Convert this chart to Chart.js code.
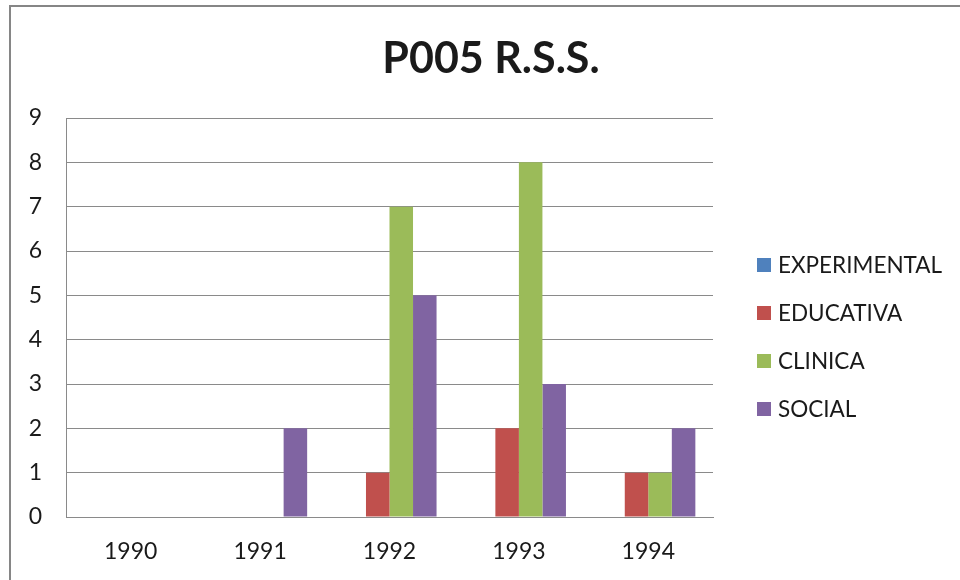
<!DOCTYPE html>
<html>
<head>
<meta charset="utf-8">
<title>P005 R.S.S.</title>
<script src="https://cdn.jsdelivr.net/npm/chart.js@4.4.1/dist/chart.umd.min.js"></script>
<style>
  html, body { margin: 0; padding: 0; background: #fff; overflow: hidden; }
  #wrap { position: relative; width: 960px; height: 580px; }
</style>
</head>
<body>
<div id="wrap"><canvas id="chart" width="960" height="580"></canvas></div>
<script>
// datos del grafico
const chartTitle = 'P005 R.S.S.';
const years = ['1990', '1991', '1992', '1993', '1994'];
const seriesNames = ['EXPERIMENTAL', 'EDUCATIVA', 'CLINICA', 'SOCIAL'];
const experimental = [0, 0, 0, 0, 0];
const educativa = [0, 0, 1, 2, 1];
const clinica = [0, 0, 7, 8, 1];
const social = [0, 2, 5, 3, 2];
const yMin = 0;
const yMax = 9;
const yStep = 1;

const seriesColors = ['#4F81BD', '#C0504D', '#9BBB59', '#8064A2'];
const gridColor = '#8a8a8a';
const textColor = '#1a1a1a';
const fontFamily = 'Lato, "Open Sans", sans-serif';

/**
 * Marco, titulo y leyenda dibujados a mano (estilo Excel)
 */
const excelDecor = {
  id: 'excelDecor',
  beforeDraw(chart) {
    const ctx = chart.ctx;
    ctx.save();
    ctx.strokeStyle = '#868686';
    ctx.lineWidth = 2;
    ctx.strokeRect(10, 6, 1200, 1200);
    ctx.restore();
  },
  afterDraw(chart, args, opts) {
    const ctx = chart.ctx;
    const area = chart.chartArea;
    ctx.save();

    // titulo
    ctx.fillStyle = textColor;
    ctx.font = 'bold 43px ' + fontFamily;
    ctx.textAlign = 'center';
    ctx.textBaseline = 'alphabetic';
    ctx.fillText(chartTitle, opts.titleX, opts.titleBaseline);

    // leyenda
    ctx.font = opts.legendFontSize + 'px ' + fontFamily;
    ctx.textAlign = 'left';
    ctx.textBaseline = 'middle';
    const x0 = area.right + opts.legendOffset;
    chart.data.datasets.forEach((ds, i) => {
      const cy = opts.legendTop + i * opts.legendGap;
      ctx.fillStyle = ds.backgroundColor;
      ctx.fillRect(x0, cy - opts.box / 2, opts.box, opts.box);
      ctx.fillStyle = textColor;
      ctx.fillText(ds.label, x0 + opts.box + 7, cy + 1);
    });
    ctx.restore();
  }
};

const allSeries = [experimental, educativa, clinica, social];

const datasets = allSeries.map((values, i) => ({
  label: seriesNames[i],
  data: values,
  backgroundColor: seriesColors[i],
  borderWidth: 0,
  categoryPercentage: 4 / 5.5,
  barPercentage: 1
}));

const ctx = document.getElementById('chart').getContext('2d');

new Chart(ctx, {
  type: 'bar',
  data: { labels: years, datasets: datasets },
  plugins: [excelDecor],
  options: {
    responsive: false,
    animation: false,
    layout: {
      padding: { top: 118, left: 10, right: 247, bottom: 4 }
    },
    plugins: {
      legend: { display: false },
      title: { display: false },
      tooltip: { enabled: false },
      excelDecor: {
        titleX: 491,
        titleBaseline: 73,
        legendFontSize: 22.5,
        legendOffset: 44,
        legendTop: 265,
        legendGap: 48,
        box: 14
      }
    },
    scales: {
      x: {
        grid: { display: false, drawTicks: false },
        border: { display: true, color: gridColor, width: 1 },
        ticks: {
          color: textColor,
          font: { family: fontFamily, size: 23 },
          padding: 21,
          maxRotation: 0
        },
        afterFit(scale) { scale.height = 59; }
      },
      y: {
        min: yMin,
        max: yMax,
        grid: { color: gridColor, lineWidth: 1, drawTicks: false },
        border: { display: true, color: gridColor, width: 1 },
        ticks: {
          stepSize: yStep,
          color: textColor,
          font: { family: fontFamily, size: 23 },
          padding: 24
        },
        afterFit(scale) { scale.width = 56; }
      }
    }
  }
});
</script>
</body>
</html>
